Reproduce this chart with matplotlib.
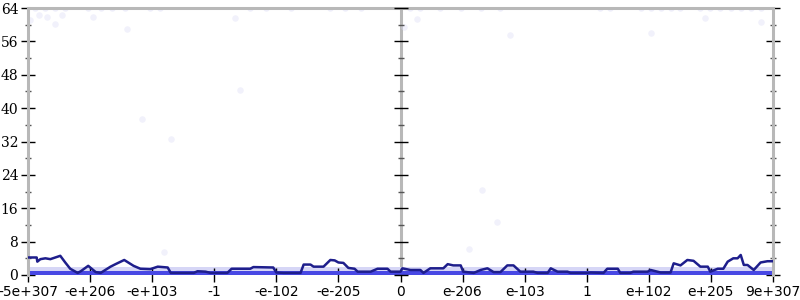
#!/usr/bin/env python3
import numpy as np
import matplotlib.pyplot as plt

# x positions are in the chart's own tick units (-6 .. 6, one unit per label)
tick_pos = [-6, -5, -4, -3, -2, -1, 0, 1, 2, 3, 4, 5, 6]
tick_labels = ["-5e+307", "-e+206", "-e+103", "-1", "-e-102", "-e-205", "0",
               "e-206", "e-103", "1", "e+102", "e+205", "9e+307"]
y_ticks = [0, 8, 16, 24, 32, 40, 48, 56, 64]
y_minor = [4, 12, 20, 28, 36, 44, 52, 60]

# running line
line_x = [-6.0, -5.86, -5.85, -5.80, -5.72, -5.64, -5.56, -5.48, -5.40, -5.32,
          -5.20, -5.15, -5.03, -4.91, -4.83, -4.67, -4.59, -4.45, -4.30, -4.19,
          -4.03, -3.91, -3.75, -3.70, -3.33, -3.27, -3.14, -3.06, -2.79, -2.72,
          -2.42, -2.37, -2.05, -2.00, -1.88, -1.61, -1.56, -1.45, -1.40, -1.24,
          -1.13, -1.06, -1.00, -0.92, -0.84, -0.74, -0.69, -0.48, -0.37, -0.21,
          -0.16, 0.0, 0.03, 0.16, 0.32, 0.37, 0.48, 0.69, 0.76, 0.85,
          0.97, 1.01, 1.18, 1.29, 1.40, 1.50, 1.61, 1.72, 1.82, 1.93,
          2.14, 2.21, 2.37, 2.42, 2.53, 2.69, 2.74, 3.01, 3.06, 3.27,
          3.33, 3.50, 3.54, 3.70, 3.75, 3.98, 4.03, 4.19, 4.35, 4.40,
          4.51, 4.62, 4.72, 4.83, 4.95, 4.99, 5.11, 5.20, 5.27, 5.36,
          5.43, 5.48, 5.53, 5.59, 5.69, 5.80, 5.91, 6.0]
line_y = [4.2, 4.2, 3.2, 3.8, 4.0, 3.8, 4.2, 4.6, 3.0, 1.5,
          0.5, 0.9, 2.2, 0.7, 0.5, 2.0, 2.6, 3.6, 2.2, 1.5,
          1.4, 2.0, 1.8, 0.5, 0.5, 0.9, 0.8, 0.5, 0.5, 1.5,
          1.5, 1.9, 1.8, 0.6, 0.5, 0.5, 2.5, 2.5, 2.0, 2.0,
          3.6, 3.5, 3.0, 2.9, 1.7, 1.5, 0.8, 0.8, 1.5, 1.5,
          0.8, 0.8, 1.6, 1.2, 1.2, 0.5, 1.6, 1.6, 2.6, 2.3,
          2.3, 0.8, 0.5, 1.2, 1.6, 0.7, 0.7, 2.3, 2.3, 0.8,
          0.8, 0.5, 0.5, 1.6, 0.8, 0.8, 0.5, 0.5, 0.6, 0.5,
          1.5, 1.5, 0.5, 0.5, 0.8, 0.8, 1.2, 0.6, 0.6, 2.8,
          2.3, 3.6, 3.4, 2.0, 2.0, 0.8, 1.5, 1.5, 3.2, 4.0,
          4.0, 4.8, 2.4, 2.4, 1.2, 3.0, 3.3, 3.3]

# faint sample dots at the top and a few strays
top_x = [-5.89, -5.73, -5.57, -5.40, -5.03, -4.83, -4.64, -4.43, -4.03, -3.87,
         -2.42, -2.17, -1.77, -1.13, -0.89, -0.64, 0.16, 0.32, 0.64, 0.97,
         1.29, 1.61, 3.22, 3.38, 3.87, 4.03, 4.19, 4.35, 4.51, 4.83,
         4.99, 5.15, 5.32, 5.48, 5.64, 5.80]
stray_x = [-5.96, -5.83, -5.69, -5.57, -5.46, -4.95, -4.40, -4.16, -3.70,
           -2.58, -2.67, 0.27, 0.05, 4.91, 4.03, 5.80, 1.32, 1.56, 1.10, 1.77, -3.81]
stray_y = [61.2, 62.4, 61.9, 60.2, 62.4, 61.9, 59.0, 37.4, 32.6,
           44.4, 61.6, 61.4, 59.5, 61.6, 58.0, 60.7, 20.4, 12.7, 6.2, 57.6, 5.5]

# bottom band of samples near zero
band_x = [-6.0, 6.0]
band_zero = [0.0, 0.0]
band_mid = [0.9, 0.9]
band_hi = [1.9, 1.9]

fig = plt.figure(figsize=(8, 3), dpi=100)
ax = fig.add_axes([28 / 800, 25 / 300, 745 / 800, 267 / 300])

ax.fill_between(band_x, band_mid, band_hi, color="#d6d6f6", lw=0, zorder=1)
ax.fill_between(band_x, band_zero, band_mid, color="#4848e4", lw=0, zorder=2,
                clip_on=False)
ax.scatter(top_x, [64] * len(top_x), s=22, color="#dcdcf6", alpha=0.45, lw=0, zorder=1)
ax.scatter(stray_x, stray_y, s=22, color="#dcdcf6", alpha=0.4, lw=0, zorder=1)
ax.plot(line_x, line_y, color="#1e1e8c", lw=1.8, zorder=4)

ax.set_xlim(-6, 6)
ax.set_ylim(0, 64)

gray = "#b8b8b8"
for side in ["left", "right", "top"]:
    ax.spines[side].set_color(gray)
    ax.spines[side].set_linewidth(2.2)
ax.spines["bottom"].set_visible(False)
ax.axvline(0, color=gray, lw=2.2, zorder=0)

ax.set_xticks(tick_pos)
ax.set_xticklabels(tick_labels, fontsize=10, family="DejaVu Sans")
ax.set_yticks(y_ticks)
ax.set_yticklabels([str(v) for v in y_ticks], fontsize=10, family="DejaVu Serif")
ax.set_yticks(y_minor, minor=True)
ax.tick_params(axis="x", direction="inout", length=10, width=1, color="black", pad=2)
ax.tick_params(axis="y", which="major", direction="inout", length=10, width=1,
               color="black", pad=2, right=True)
ax.tick_params(axis="y", which="minor", direction="inout", length=5, width=1,
               color="#555555", right=True)

# ticks on the middle axis
ax.plot([0] * len(y_ticks), y_ticks, ls="none", marker="_", ms=10, mew=1,
        color="black", zorder=5, clip_on=False)
ax.plot([0] * len(y_minor), y_minor, ls="none", marker="_", ms=5,
        mew=1, color="#555555", zorder=5, clip_on=False)

plt.savefig("out.png", dpi=100)
